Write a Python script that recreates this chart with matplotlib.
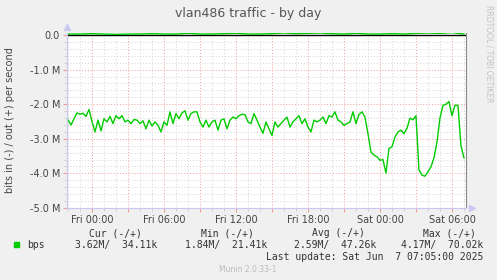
import numpy as np
import matplotlib.pyplot as plt
from matplotlib.ticker import MultipleLocator, FuncFormatter
from matplotlib.patches import Rectangle

# traffic "in" (plotted negative), millions of bits/s, one value per 15 min from Thu 22:00
bps_in = [
    -2.45, -2.60, -2.42, -2.25, -2.29, -2.26, -2.35, -2.15, -2.50, -2.80,
    -2.46, -2.77, -2.42, -2.51, -2.35, -2.56, -2.33, -2.42, -2.33, -2.51,
    -2.46, -2.56, -2.44, -2.46, -2.56, -2.48, -2.71, -2.46, -2.63, -2.51,
    -2.61, -2.80, -2.51, -2.61, -2.22, -2.56, -2.27, -2.42, -2.25, -2.19,
    -2.46, -2.27, -2.22, -2.22, -2.51, -2.66, -2.46, -2.66, -2.51, -2.46,
    -2.75, -2.46, -2.42, -2.71, -2.46, -2.37, -2.42, -2.33, -2.29, -2.30,
    -2.51, -2.56, -2.27, -2.46, -2.66, -2.84, -2.51, -2.71, -2.90, -2.51,
    -2.66, -2.56, -2.46, -2.37, -2.66, -2.51, -2.42, -2.33, -2.56, -2.42,
    -2.66, -2.80, -2.46, -2.51, -2.46, -2.37, -2.56, -2.33, -2.37, -2.22,
    -2.46, -2.51, -2.61, -2.56, -2.51, -2.22, -2.56, -2.30, -2.22, -2.37,
    -2.85, -3.38, -3.47, -3.52, -3.62, -3.60, -3.99, -3.28, -3.23, -2.95,
    -2.80, -2.75, -2.85, -2.70, -2.40, -2.45, -2.33, -3.89, -4.05, -4.08,
    -3.95, -3.81, -3.55, -3.10, -2.40, -2.03, -2.00, -1.92, -2.33, -2.03,
    -2.03, -3.20, -3.55,
]
# traffic "out", millions of bits/s, one value per hour from Thu 22:00
bps_out = [
    0.03, 0.03, 0.04, 0.03, 0.02, 0.03, 0.03, 0.04, 0.03, 0.03,
    0.05, 0.03, 0.03, 0.04, 0.05, 0.03, 0.03, 0.04, 0.06, 0.04,
    0.05, 0.06, 0.04, 0.03, 0.05, 0.03, 0.03, 0.04, 0.03, 0.05,
    0.06, 0.05, 0.07, 0.03,
]
headers = ['Cur (-/+)', 'Min (-/+)', 'Avg (-/+)', 'Max (-/+)']
stats = ['3.62M/  34.11k', '1.84M/  21.41k', '2.59M/  47.26k', '4.17M/  70.02k']

# hours relative to Fri 00:00
t_in = -2 + 0.25 * np.arange(len(bps_in))
t_out = -2 + 1.0 * np.arange(len(bps_out))

W, H = 497, 280
def fx(x):
    return x / W
def fy(y):
    return 1 - y / H

fig = plt.figure(figsize=(W / 100, H / 100), dpi=100, facecolor='#F0F0F0')
ax = fig.add_axes([fx(67), fy(208), (466 - 67) / W, (208 - 33) / H])
ax.set_facecolor('white')

green = '#00CC00'
ax.plot(t_in, np.array(bps_in) * 1e6, color=green, lw=1)
ax.plot(t_out, np.array(bps_out) * 1e6, color=green, lw=1)
ax.axhline(0, color='black', lw=1, zorder=1)

ax.set_xlim(-2.083, 31.17)
ax.set_ylim(-5e6, 0.06e6)

# grid
ax.xaxis.set_major_locator(MultipleLocator(3))
ax.xaxis.set_minor_locator(MultipleLocator(1))
ax.yaxis.set_major_locator(MultipleLocator(1e6))
ax.yaxis.set_minor_locator(MultipleLocator(0.2e6))
ax.grid(which='minor', color='#D4D4D4', lw=0.7, ls=(0, (1, 2)))
ax.grid(which='major', color='#F39A9A', lw=0.7, ls=(0, (1, 2)))
ax.set_axisbelow(True)

def xfmt(v, pos):
    if round(v) % 6 != 0:
        return ''
    day = 'Fri' if v < 24 else 'Sat'
    return f'{day} {int(v % 24):02d}:00'

def yfmt(v, pos):
    if abs(v) < 1:
        return '0.0'
    return f'{v / 1e6:.1f} M'

ax.xaxis.set_major_formatter(FuncFormatter(xfmt))
ax.yaxis.set_major_formatter(FuncFormatter(yfmt))
ax.tick_params(axis='x', which='major', length=3, color='#F39A9A', labelsize=7,
               labelcolor='#444444', pad=2)
ax.tick_params(axis='x', which='minor', length=2, color='#C8C8C8')
ax.tick_params(axis='y', which='major', length=3, color='#F39A9A', labelsize=7,
               labelcolor='#444444', pad=2)
ax.tick_params(axis='y', which='minor', length=2, color='#C8C8C8')

for s in ['left', 'bottom']:
    ax.spines[s].set_color('#C8C8F0')
ax.spines['right'].set_color('#888888')
ax.spines['top'].set_visible(False)

# little axis arrows
ax.plot([0], [1.035], marker='^', ms=4, color='#C8C8F0', transform=ax.transAxes, clip_on=False)
ax.plot([1.015], [0], marker='>', ms=4, color='#C8C8F0', transform=ax.transAxes, clip_on=False)

fig.text(0.5, fy(14), 'vlan486 traffic - by day', ha='center', va='center',
         fontsize=9, color='#555555')
fig.text(fx(10), fy(120), 'bits in (-) / out (+) per second', rotation=90,
         ha='center', va='center', fontsize=7, color='#444444')
fig.text(fx(489), fy(5), 'RRDTOOL / TOBI OETIKER', rotation=270, ha='center',
         va='top', fontsize=5.5, color='#C4C4C4')

# legend
fig.patches.append(Rectangle((fx(14), fy(247)), 5 / W, 5 / H, transform=fig.transFigure,
                             color=green))
mono = dict(family='DejaVu Sans Mono', fontsize=7, color='#333333', va='center')
fig.text(fx(27), fy(245), 'bps', **mono)
head_right = [142, 254, 365, 476]
val_right = [157, 267, 376, 483]
for h, s, hr, vr in zip(headers, stats, head_right, val_right):
    fig.text(fx(hr), fy(233), h, ha='right', **mono)
    fig.text(fx(vr), fy(245), s, ha='right', **mono)
fig.text(fx(483), fy(257), 'Last update: Sat Jun  7 07:05:00 2025', ha='right', **mono)
fig.text(fx(248), fy(269), 'Munin 2.0.33-1', ha='center', va='center',
         fontsize=5.5, color='#BBBBBB')

fig.savefig('out.png', dpi=100, facecolor=fig.get_facecolor())
